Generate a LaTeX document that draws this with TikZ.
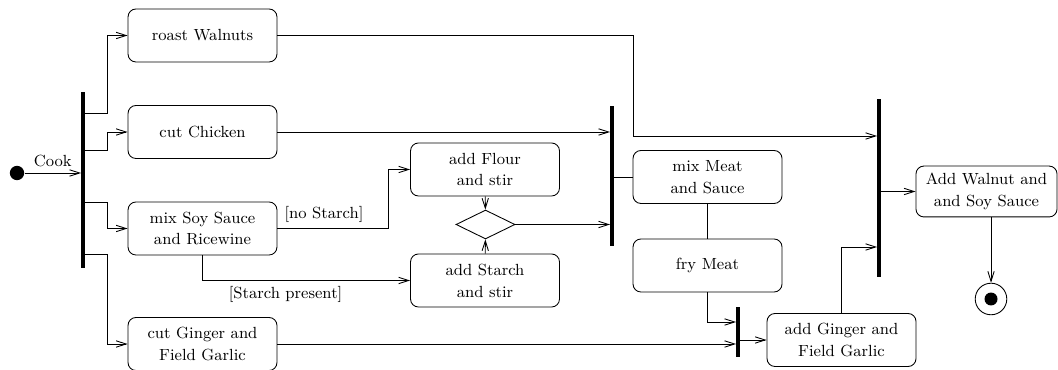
\documentclass[tikz,border=0pt]{standalone}
\usetikzlibrary{arrows.meta,shapes.geometric}

\tikzset{
    action/.style={draw, line width=0.5pt, rounded corners=4.5pt, align=center,
        minimum width=84.9pt, minimum height=30.2pt, inner sep=2pt},
    bar/.style={fill, inner sep=0pt, minimum width=1.8pt},
    flow/.style={line width=0.5pt, -{Straight Barb[length=5.7pt,width=3.6pt]}},
    link/.style={line width=0.5pt},
}

\begin{document}
\begin{tikzpicture}[x=0.57pt, y=-0.57pt, font=\fontsize{9.2}{12.5}\selectfont]
    \useasboundingbox (0,0) rectangle (1058,370);

    % start and end
    \node[circle, fill, inner sep=0pt, minimum size=8.2pt] (start) at (17,173) {};
    \node[circle, draw, line width=0.5pt, inner sep=0pt, minimum size=18pt,
        path picture={\fill (path picture bounding box.center) circle (3.7pt);}] (final) at (991,299) {};

    % bars
    \node[bar, minimum height=100.3pt] (forkA) at (83,180) {};
    \node[bar, minimum height=79.8pt] (joinB) at (612,176) {};
    \node[bar, minimum height=28.5pt] (joinC) at (738,332) {};
    \node[bar, minimum height=101.5pt] (joinD) at (879,188) {};

    % actions
    \node[action] (walnuts) at (202.5,35.5) {roast Walnuts};
    \node[action] (chicken) at (202.5,132) {cut Chicken};
    \node[action] (soy) at (202.5,228.5) {mix Soy Sauce\\and Ricewine};
    \node[action] (ginger) at (202.5,344) {cut Ginger and\\Field Garlic};
    \node[action] (flour) at (485,169.5) {add Flour\\and stir};
    \node[action] (starch) at (485,280.5) {add Starch\\and stir};
    \node[action] (meat) at (707.5,177) {mix Meat\\and Sauce};
    \node[action] (fry) at (707.5,265.5) {fry Meat};
    \node[action] (addginger) at (841.5,340) {add Ginger and\\Field Garlic};
    \node[action, minimum width=80.4pt, minimum height=29pt] (addwalnut) at (986.5,191.5) {Add Walnut and\\and Soy Sauce};

    % decision
    \node[diamond, draw, line width=0.5pt, inner sep=0pt, minimum width=33.6pt, minimum height=16.5pt] (dec) at (485.5,224.5) {};

    % fork
    \draw[flow] (start) -- (start -| forkA.west) node[midway, above] {Cook};
    \foreach \y/\n in {113/walnuts, 150/chicken, 202/soy, 254/ginger}
        \draw[flow] (forkA.east |- 0,\y) -- ++(23,0) |- (\n);

    % sauce
    \draw[flow] (soy.east) -| (388,169.5) -- (flour);
    \path (soy.east) -- (388,228.5) node[midway, above, xshift=-5pt] {[no Starch]};
    \draw[flow] (soy.south) |- (starch) node[pos=0.7, below] {[Starch present]};
    \draw[flow] (flour) -- (dec);
    \draw[flow] (starch) -- (dec);
    \draw[flow] (dec.east) -- (dec.east -| joinB.west);
    \draw[flow] (chicken.east) -- (chicken.east -| joinB.west);

    % meat
    \draw[link] (joinB.east |- meat) -- (meat);
    \draw[link] (meat) -- (fry);
    \draw[flow] (fry.south) |- (joinC.west |- 0,322);
    \draw[flow] (ginger.east) -- (ginger.east -| joinC.west);
    \draw[flow] (joinC.east |- addginger) -- (addginger);

    % finish
    \draw[flow] (walnuts.east) -| (633,136) -- (joinD.west |- 0,136);
    \draw[flow] (addginger.north) |- (joinD.west |- 0,247);
    \draw[flow] (joinD.east |- addwalnut) -- (addwalnut);
    \draw[flow] (addwalnut.south -| final) -- (final);

\end{tikzpicture}
\end{document}
